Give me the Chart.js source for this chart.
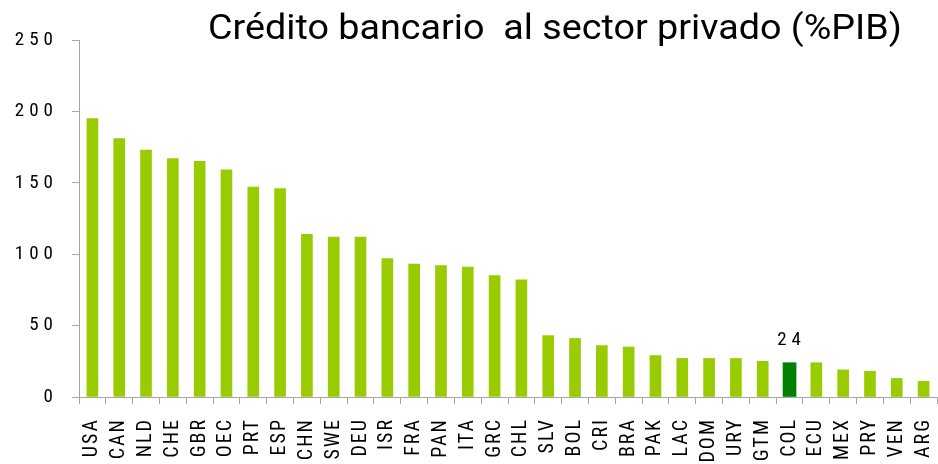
<!DOCTYPE html>
<html>
<head>
<meta charset="utf-8">
<script src="https://cdn.jsdelivr.net/npm/chart.js@4.4.1/dist/chart.umd.min.js"></script>
<style>
  html, body { margin: 0; padding: 0; background: #ffffff; }
  #wrap { width: 938px; height: 464px; position: relative; }
</style>
</head>
<body>
<div id="wrap"><canvas id="c" width="938" height="464"></canvas></div>
<script>
// ---- data ----
const categories = ["USA","CAN","NLD","CHE","GBR","OEC","PRT","ESP","CHN","SWE","DEU","ISR","FRA","PAN","ITA","GRC","CHL","SLV","BOL","CRI","BRA","PAK","LAC","DOM","URY","GTM","COL","ECU","MEX","PRY","VEN","ARG"];
const creditValues = [195,181,173,167,165,159,147,146,114,112,112,97,93,92,91,85,82,43,41,36,35,29,27,27,27,25,24,24,19,18,13,11];
const highlightCategory = "COL";
const yTicks = [0,50,100,150,200,250];
const titleText = "Crédito bancario  al sector privado (%PIB)";

// ---- styling ----
const FONT = "'Liberation Sans Narrow','Arial Narrow','Roboto Condensed','Liberation Sans',Arial,sans-serif";
const TITLE_FONT = "Roboto,'Liberation Sans',Arial,sans-serif";
const BAR = "#99CC00";
const BAR_HL = "#008000";
const AXIS = "#a6a6a6";

const hlIndex = categories.indexOf(highlightCategory);
const mainData = creditValues.map((v, i) => i === hlIndex ? null : v);
const hlData = creditValues.map((v, i) => i === hlIndex ? v : null);

function spaced(scaleId, spacing) {
  return {
    id: 'spacing_' + scaleId,
    afterUpdate(chart) {
      const s = chart.scales[scaleId];
      if (!s || s._patched) return;
      const orig = Object.getPrototypeOf(s).drawLabels;
      s.drawLabels = function (ca) {
        const ctx = this.ctx;
        ctx.save();
        ctx.letterSpacing = spacing;
        orig.call(this, ca);
        ctx.restore();
      };
      s._patched = true;
    }
  };
}

const overlay = {
  id: 'overlay',
  afterDraw(chart) {
    const ctx = chart.ctx;
    // title, fitted to the width it has in the original
    ctx.save();
    ctx.font = "35px " + TITLE_FONT;
    ctx.fillStyle = "#000";
    ctx.textAlign = "left";
    ctx.textBaseline = "alphabetic";
    const w = ctx.measureText(titleText).width;
    const target = 694;
    ctx.translate(208, 39);
    ctx.scale(target / w, 1);
    ctx.fillText(titleText, 0, 0);
    ctx.restore();
    // value label on highlighted bar
    const meta = chart.getDatasetMeta(1);
    const el = meta.data[hlIndex];
    if (el) {
      ctx.save();
      ctx.font = "19px " + FONT;
      ctx.letterSpacing = "5px";
      ctx.fillStyle = "#000";
      ctx.textAlign = "center";
      ctx.textBaseline = "alphabetic";
      ctx.fillText(String(creditValues[hlIndex]), el.x + 2, el.y - 18);
      ctx.restore();
    }
  }
};

new Chart(document.getElementById('c'), {
  type: 'bar',
  data: {
    labels: categories,
    datasets: [
      { data: mainData, backgroundColor: BAR, barThickness: 11, grouped: false, skipNull: true },
      { data: hlData, backgroundColor: BAR_HL, barThickness: 13, grouped: false, skipNull: true }
    ]
  },
  options: {
    responsive: false,
    animation: false,
    devicePixelRatio: 1,
    layout: { padding: { top: 40, right: 1, left: 0, bottom: 0 } },
    plugins: { legend: { display: false }, tooltip: { enabled: false }, title: { display: false } },
    scales: {
      x: {
        grid: { display: true, drawOnChartArea: false, offset: true, color: AXIS, tickLength: 7, tickColor: AXIS },
        border: { display: true, color: AXIS, width: 1 },
        ticks: { color: "#000", font: { family: FONT, size: 20 }, minRotation: 90, maxRotation: 90, padding: 14, autoSkip: false },
        afterFit(s) { s.height = 67; s.paddingLeft = 0; s.paddingRight = 0; }
      },
      y: {
        min: 0, max: 250,
        afterBuildTicks(s) { s.ticks = yTicks.map(v => ({ value: v })); },
        grid: { display: true, drawOnChartArea: false, color: AXIS, tickLength: 7, tickColor: AXIS },
        border: { display: true, color: AXIS, width: 1 },
        ticks: { color: "#000", font: { family: FONT, size: 19 }, padding: 14 },
        afterFit(s) { s.width = 79; s.paddingTop = 0; s.paddingBottom = 0; }
      }
    }
  },
  plugins: [spaced('x', '2px'), spaced('y', '5px'), overlay]
});
</script>
</body>
</html>
